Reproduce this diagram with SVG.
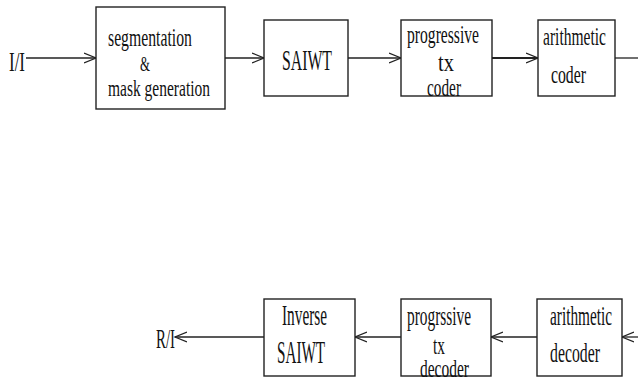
<svg xmlns="http://www.w3.org/2000/svg" width="638" height="381" viewBox="0 0 638 381">
<style>
  .box { fill: #fff; stroke: #222; stroke-width: 1.4; }
  .ln { fill: none; stroke: #222; stroke-width: 1.3; }
  text { font-family: "Liberation Serif", "Times New Roman", serif; fill: #111; }
</style>
<defs>
  <marker id="ah" markerUnits="userSpaceOnUse" markerWidth="14" markerHeight="12" refX="12" refY="6" orient="auto">
    <path d="M0,1 L12,6 L0,11" fill="none" stroke="#222" stroke-width="1.3"/>
  </marker>
</defs>
<rect width="638" height="381" fill="#fff"/>
<g id="connectors">
  <line class="ln" x1="26" y1="58" x2="96" y2="58" marker-end="url(#ah)"/>
  <line class="ln" x1="225" y1="58" x2="264" y2="58" marker-end="url(#ah)"/>
  <line class="ln" x1="348" y1="58" x2="401" y2="58" marker-end="url(#ah)"/>
  <line class="ln" x1="492" y1="58" x2="538" y2="58" marker-end="url(#ah)" style="stroke-width:2"/>
  <line class="ln" x1="615" y1="58" x2="638" y2="58"/>
  <line class="ln" x1="638" y1="337" x2="622" y2="337" marker-end="url(#ah)"/>
  <line class="ln" x1="537" y1="337" x2="491" y2="337" marker-end="url(#ah)"/>
  <line class="ln" x1="401" y1="337" x2="355" y2="337" marker-end="url(#ah)"/>
  <line class="ln" x1="264" y1="337" x2="175" y2="337" marker-end="url(#ah)"/>
</g>
<g id="in_label"><text x="9" y="71" font-size="27" textLength="16" lengthAdjust="spacingAndGlyphs">I/I</text></g>
<g id="seg">
  <rect class="box" x="96" y="7" width="129" height="102"/>
  <text x="108" y="46" font-size="25" textLength="84" lengthAdjust="spacingAndGlyphs">segmentation</text>
  <text x="140" y="71" font-size="22" textLength="10" lengthAdjust="spacingAndGlyphs">&amp;</text>
  <text x="108" y="96" font-size="24" textLength="102" lengthAdjust="spacingAndGlyphs">mask generation</text>
</g>
<g id="saiwt">
  <rect class="box" x="264" y="20" width="84" height="76"/>
  <text x="282" y="70" font-size="30" textLength="50" lengthAdjust="spacingAndGlyphs">SAIWT</text>
</g>
<g id="ptx">
  <rect class="box" x="401" y="20" width="91" height="76"/>
  <text x="407" y="43" font-size="25" textLength="72" lengthAdjust="spacingAndGlyphs">progressive</text>
  <text x="438" y="71" font-size="25" textLength="16" lengthAdjust="spacingAndGlyphs">tx</text>
  <text x="427" y="96" font-size="25" textLength="34" lengthAdjust="spacingAndGlyphs">coder</text>
</g>
<g id="arith">
  <rect class="box" x="538" y="20" width="77" height="76"/>
  <text x="543" y="45" font-size="26" textLength="63" lengthAdjust="spacingAndGlyphs">arithmetic</text>
  <text x="551" y="83" font-size="26" textLength="35" lengthAdjust="spacingAndGlyphs">coder</text>
</g>
<g id="out_label"><text x="156" y="348" font-size="28" textLength="19" lengthAdjust="spacingAndGlyphs">R/I</text></g>
<g id="isaiwt">
  <rect class="box" x="264" y="299" width="91" height="77"/>
  <text x="282" y="325" font-size="29" textLength="45" lengthAdjust="spacingAndGlyphs">Inverse</text>
  <text x="277" y="363" font-size="31" textLength="48" lengthAdjust="spacingAndGlyphs">SAIWT</text>
</g>
<g id="ptxd">
  <rect class="box" x="401" y="299" width="90" height="77"/>
  <text x="407" y="325" font-size="27" textLength="64" lengthAdjust="spacingAndGlyphs">progrssive</text>
  <text x="433" y="354" font-size="25" textLength="12" lengthAdjust="spacingAndGlyphs">tx</text>
  <text x="420" y="377" font-size="26" textLength="49" lengthAdjust="spacingAndGlyphs">decoder</text>
</g>
<g id="arithd">
  <rect class="box" x="537" y="299" width="85" height="77"/>
  <text x="550" y="325" font-size="27" textLength="62" lengthAdjust="spacingAndGlyphs">arithmetic</text>
  <text x="550" y="362" font-size="27" textLength="50" lengthAdjust="spacingAndGlyphs">decoder</text>
</g>
</svg>
